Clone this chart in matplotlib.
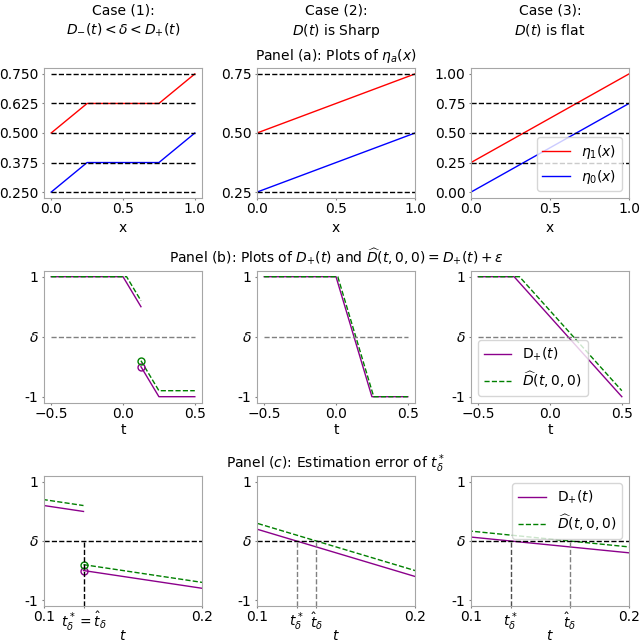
import matplotlib
matplotlib.use("Agg")
import matplotlib.pyplot as plt

# ---------------- data ----------------
# Panel (a)
x1 = [0.0, 0.25, 0.75, 1.0]
eta1_c1 = [0.5, 0.625, 0.625, 0.75]
eta0_c1 = [0.25, 0.375, 0.375, 0.5]
hl_c1 = [0.25, 0.375, 0.5, 0.625, 0.75]

x2 = [0.0, 1.0]
eta1_c2 = [0.5, 0.75]
eta0_c2 = [0.25, 0.5]
hl_c2 = [0.25, 0.5, 0.75]

x3 = [0.0, 1.0]
eta1_c3 = [0.25, 1.0]
eta0_c3 = [0.0, 0.75]
hl_c3 = [0.25, 0.5, 0.75]
yt_c3 = [0.0, 0.25, 0.5, 0.75, 1.0]

# Panel (b)/(c): D+(t) and D-hat(t,0,0)
# Case 1 (discontinuous at t=0.125)
t1a = [-0.5, 0.0, 0.125]
D1a = [1.0, 1.0, 0.5]
t1b = [0.125, 0.25, 0.5]
D1b = [-0.5, -1.0, -1.0]
th1a = [-0.5, 0.025, 0.125]
Dh1a = [1.0, 1.0, 0.6]
th1b = [0.125, 0.25, 0.5]
Dh1b = [-0.4, -0.9, -0.9]
# Case 2 (sharp)
t2 = [-0.5, 0.0, 0.25, 0.5]
D2 = [1.0, 1.0, -1.0, -1.0]
th2 = [-0.5, 0.0125, 0.2625, 0.5]
Dh2 = [1.0, 1.0, -1.0, -1.0]
# Case 3 (flat)
t3 = [-0.5, -0.25, 0.5]
D3 = [1.0, 1.0, -1.0]
th3 = [-0.5, -0.2125, 0.5]
Dh3 = [1.0, 1.0, -0.9]

delta = 0.0
tstar = [0.125, 0.125, 0.125]
that = [0.125, 0.1375, 0.1625]

# ---------------- style ----------------
plt.rcParams['font.size'] = 10
PURPLE = '#8b008b'
GREEN = 'green'
SPINE = '0.65'

fig = plt.figure(figsize=(6.4, 6.44), dpi=100)
lefts = [44/640, 257/640, 471/640]
w = 158/640
rows = [(1-198/644, 130/644), (1-402.7/644, 132/644), (1-606/644, 130/644)]
label_y = [-0.175, -0.15, -0.18]

axes = [[fig.add_axes([l, rb, w, rh]) for l in lefts] for (rb, rh) in rows]
for r, row in enumerate(axes):
    for ax in row:
        for s in ax.spines.values():
            s.set_color(SPINE)
        ax.tick_params(axis='x', color='0.5', length=1.5, pad=1.5)
        ax.tick_params(axis='y', color='0.5', length=1.5, pad=2.5)

# Case titles
case_titles = ["Case (1):\n$D_{-}(t) < \\delta < D_{+}(t)$",
               "Case (2):\n$D(t)$ is Sharp",
               "Case (3):\n$D(t)$ is flat"]
for l, txt in zip(lefts, case_titles):
    fig.text(l + w/2, 1 - 4/644, txt, ha='center', va='top', fontsize=10,
             linespacing=1.3)

# ---- Row 1: Panel (a)
ax = axes[0][0]
ax.plot(x1, eta1_c1, color='red', lw=1)
ax.plot(x1, eta0_c1, color='blue', lw=1)
for h in hl_c1:
    ax.plot([0, 1], [h, h], 'k--', lw=1)
ax.set_yticks(hl_c1)
ax.set_yticklabels(['%.3f' % v for v in hl_c1])
ax.set_xticks([0, 0.5, 1.0])
ax.set_xlabel('x')

ax = axes[0][1]
ax.plot(x2, eta1_c2, color='red', lw=1)
ax.plot(x2, eta0_c2, color='blue', lw=1)
for h in hl_c2:
    ax.axhline(h, color='k', ls='--', lw=1)
ax.set_xlim(0, 1)
ax.set_ylim(0.225, 0.775)
ax.set_yticks(hl_c2)
ax.set_yticklabels(['%.2f' % v for v in hl_c2])
ax.set_xticks([0, 0.5, 1.0])
ax.set_xlabel('x')
ax.set_title('Panel (a): Plots of $\\eta_a(x)$', fontsize=10)

ax = axes[0][2]
ax.plot(x3, eta1_c3, color='red', lw=1, label='$\\eta_1(x)$')
ax.plot(x3, eta0_c3, color='blue', lw=1, label='$\\eta_0(x)$')
for h in hl_c3:
    ax.axhline(h, color='k', ls='--', lw=1)
ax.set_xlim(0, 1)
ax.set_ylim(-0.05, 1.05)
ax.set_yticks(yt_c3)
ax.set_yticklabels(['%.2f' % v for v in yt_c3])
ax.set_xticks([0, 0.5, 1.0])
ax.set_xlabel('x')
ax.legend(loc='lower right', fontsize=10)

# ---- Row 2: Panel (b)
def ytick_delta(ax):
    ax.set_ylim(-1.1, 1.1)
    ax.set_yticks([-1, 0, 1])
    ax.set_yticklabels(['-1', '$\\delta$', '1'])

ax = axes[1][0]
ax.plot(t1a, D1a, color=PURPLE, lw=1)
ax.plot(t1b, D1b, color=PURPLE, lw=1)
ax.plot(th1a, Dh1a, color=GREEN, ls='--', lw=1)
ax.plot(th1b, Dh1b, color=GREEN, ls='--', lw=1)
ax.plot([t1b[0]], [D1b[0]], 'o', mfc='none', mec=PURPLE, ms=5)
ax.plot([th1b[0]], [Dh1b[0]], 'o', mfc='none', mec=GREEN, ms=5)
ax.plot([-0.5, 0.5], [delta, delta], color='gray', ls='--', lw=1)
ytick_delta(ax)
ax.set_xlim(-0.55, 0.55)
ax.set_xticks([-0.5, 0, 0.5])
ax.set_xlabel('t')

ax = axes[1][1]
ax.plot(t2, D2, color=PURPLE, lw=1)
ax.plot(th2, Dh2, color=GREEN, ls='--', lw=1)
ax.plot([-0.5, 0.5], [delta, delta], color='gray', ls='--', lw=1)
ytick_delta(ax)
ax.set_xlim(-0.55, 0.55)
ax.set_xticks([-0.5, 0, 0.5])
ax.set_xlabel('t')
ax.set_title('Panel (b): Plots of $D_{+}(t)$ and $\\widehat{D}(t,0,0) = D_{+}(t) + \\varepsilon$',
             fontsize=10)

ax = axes[1][2]
ax.plot(t3, D3, color=PURPLE, lw=1, label='D$_{+}(t)$')
ax.plot(th3, Dh3, color=GREEN, ls='--', lw=1, label='$\\widehat{D}(t,0,0)$')
ax.plot([-0.5, 0.5], [delta, delta], color='gray', ls='--', lw=1)
ytick_delta(ax)
ax.set_xlim(-0.55, 0.55)
ax.set_xticks([-0.5, 0, 0.5])
ax.set_xlabel('t')
ax.legend(loc='lower left', fontsize=10)

# ---- Row 3: Panel (c)
ax = axes[2][0]
ax.plot(t1a, D1a, color=PURPLE, lw=1)
ax.plot(t1b, D1b, color=PURPLE, lw=1)
ax.plot(th1a, Dh1a, color=GREEN, ls='--', lw=1)
ax.plot(th1b, Dh1b, color=GREEN, ls='--', lw=1)
ax.plot([t1b[0]], [D1b[0]], 'o', mfc='none', mec=PURPLE, ms=5)
ax.plot([th1b[0]], [Dh1b[0]], 'o', mfc='none', mec=GREEN, ms=5)
ax.axhline(delta, color='k', ls='--', lw=1)
ax.vlines(tstar[0], -1.1, delta, color='k', ls='--', lw=1)
ytick_delta(ax)
ax.set_xlim(0.1, 0.2)
ax.set_xticks([0.1, tstar[0], 0.2])
ax.set_xticklabels(['0.1', '$t^*_\\delta = \\hat{t}_\\delta$', '0.2'])
ax.set_xlabel('$t$')

ax = axes[2][1]
ax.plot(t2, D2, color=PURPLE, lw=1)
ax.plot(th2, Dh2, color=GREEN, ls='--', lw=1)
ax.axhline(delta, color='k', ls='--', lw=1)
ax.vlines(tstar[1], -1.1, delta, color='gray', ls='--', lw=1)
ax.vlines(that[1], -1.1, delta, color='gray', ls='--', lw=1)
ytick_delta(ax)
ax.set_xlim(0.1, 0.2)
ax.set_xticks([0.1, tstar[1], that[1], 0.2])
ax.set_xticklabels(['0.1', '$t^*_\\delta$', '$\\hat{t}_\\delta$', '0.2'])
ax.set_xlabel('$t$')
ax.set_title('Panel ($c$): Estimation error of $t^*_\\delta$', fontsize=10)

ax = axes[2][2]
ax.plot(t3, D3, color=PURPLE, lw=1, label='D$_{+}(t)$')
ax.plot(th3, Dh3, color=GREEN, ls='--', lw=1, label='$\\widehat{D}(t,0,0)$')
ax.axhline(delta, color='k', ls='--', lw=1)
ax.vlines(tstar[2], -1.1, delta, color='0.3', ls='--', lw=1)
ax.vlines(that[2], -1.1, delta, color='gray', ls='--', lw=1)
ytick_delta(ax)
ax.set_xlim(0.1, 0.2)
ax.set_xticks([0.1, tstar[2], that[2], 0.2])
ax.set_xticklabels(['0.1', '$t^*_\\delta$', '$\\hat{t}_\\delta$', '0.2'])
ax.set_xlabel('$t$')
ax.legend(loc='upper right', fontsize=10)

for r, row in enumerate(axes):
    for ax in row:
        ax.xaxis.set_label_coords(0.5, label_y[r])

fig.savefig('out.png', dpi=100)
